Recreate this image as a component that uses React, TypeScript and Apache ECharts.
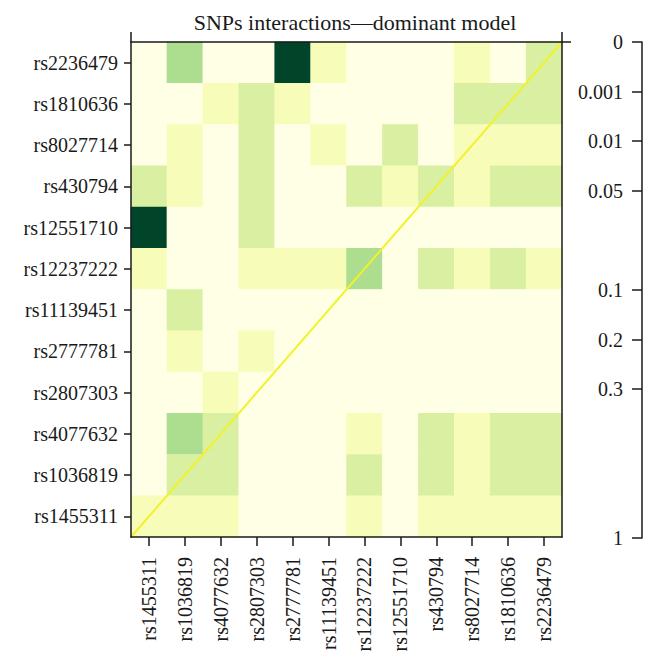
import React, { useEffect, useRef } from "react";
import * as echarts from "echarts";

// SNP names, left-to-right on the x axis and bottom-to-top on the y axis
const snps = [
  "rs1455311", "rs1036819", "rs4077632", "rs2807303", "rs2777781", "rs11139451",
  "rs12237222", "rs12551710", "rs430794", "rs8027714", "rs1810636", "rs2236479",
];

// estimated p-values by colour class
const D = 0.0005; // darkest green
const M = 0.25;   // medium green
const L = 0.5;    // light green
const P = 0.75;   // pale yellow
const W = 0.95;   // near white

// rows listed top-to-bottom (rs2236479 ... rs1455311), columns in snps order
const rowsTopToBottom = [
  "rs2236479", "rs1810636", "rs8027714", "rs430794", "rs12551710", "rs12237222",
  "rs11139451", "rs2777781", "rs2807303", "rs4077632", "rs1036819", "rs1455311",
];
const pMatrix: number[][] = [
  [W, M, W, W, D, P, W, W, W, P, W, L],
  [W, W, P, L, P, W, W, W, W, L, L, L],
  [W, P, W, L, W, P, W, L, W, P, P, P],
  [L, P, W, L, W, W, L, P, L, P, L, L],
  [D, W, W, L, W, W, W, W, W, W, W, W],
  [P, W, W, P, P, P, M, W, L, P, L, P],
  [W, L, W, W, W, W, W, W, W, W, W, W],
  [W, P, W, P, W, W, W, W, W, W, W, W],
  [W, W, P, W, W, W, W, W, W, W, W, W],
  [W, M, L, W, W, W, P, W, L, P, L, L],
  [W, L, L, W, W, W, L, W, L, P, L, L],
  [P, P, P, W, W, W, P, W, P, P, P, P],
];

// colour classes
const pieceBounds = [
  { lte: 0.001 },
  { gt: 0.001, lte: 0.3 },
  { gt: 0.3, lte: 0.6 },
  { gt: 0.6, lte: 0.85 },
  { gt: 0.85 },
];
const pieceColors = ["#004529", "#addd8e", "#d9f0a3", "#f7fcb9", "#ffffe5"];

// colour bar scale
const colorbarPositions = ["0", "1", "2", "3", "4", "5", "6", "7", "8", "9", "10"];
const colorbarTickLabels = ["0", "0.001", "0.01", "0.05", "", "0.1", "0.2", "0.3", "", "", "1"];
const colorbarStrip = [[0.3, 0], [0.3, 10]];

const diagonal = [[0, 0], [1, 1]];

const title = "SNPs interactions\u2014dominant model";

const FONT = "Liberation Serif";
const INK = "#1a1a1a";

export default function App() {
  const ref = useRef<HTMLDivElement>(null);
  useEffect(() => {
    if (!ref.current) return;
    const chart = echarts.init(ref.current, null, { renderer: "svg" });
    const n = snps.length;
    const heatData: any[] = [];
    rowsTopToBottom.forEach((rowName, r) => {
      const yi = snps.indexOf(rowName);
      pMatrix[r].forEach((v, c) => heatData.push([c, yi, v]));
    });
    const axisLine = { show: true, lineStyle: { color: INK, width: 1.5 } };
    const label = { fontFamily: FONT, fontSize: 20, color: INK };
    chart.setOption({
      animation: false,
      backgroundColor: "#ffffff",
      grid: [
        { left: 131, top: 42, width: 431, height: 495, show: false },
        { left: 642, top: 42, width: 4, height: 496, show: false },
      ],
      xAxis: [
        {
          type: "category", gridIndex: 0, data: snps, position: "bottom", z: 5,
          axisLine,
          axisTick: { show: true, alignWithLabel: true, length: 9, lineStyle: { color: INK, width: 1.5 } },
          axisLabel: { ...label, rotate: 90, margin: 20, interval: 0 },
          splitLine: { show: false },
        },
        {
          type: "value", gridIndex: 0, position: "top", min: 0, max: 1, interval: 1, z: 5,
          axisLine,
          axisTick: { show: true, length: 10, lineStyle: { color: INK, width: 1.5 } },
          axisLabel: { show: false },
          splitLine: { show: false },
        },
        { type: "value", gridIndex: 1, min: 0, max: 1, show: false },
      ],
      yAxis: [
        {
          type: "category", gridIndex: 0, data: snps, z: 5,
          axisLine,
          axisTick: { show: true, alignWithLabel: true, length: 7, lineStyle: { color: INK, width: 1.5 } },
          axisLabel: { ...label, margin: 13, interval: 0 },
          splitLine: { show: false },
        },
        {
          type: "value", gridIndex: 0, position: "right", min: 0, max: 1, interval: 1, z: 5,
          axisLine,
          axisTick: { show: false },
          axisLabel: { show: false },
          splitLine: { show: false },
        },
        {
          type: "category", gridIndex: 1, data: colorbarPositions, inverse: true, boundaryGap: false,
          position: "left", z: 5,
          axisLine,
          axisTick: {
            show: true, length: 10, lineStyle: { color: INK, width: 1.5 },
            interval: (i: number) => colorbarTickLabels[i] !== "",
          },
          axisLabel: {
            ...label, margin: 19, interval: 0,
            formatter: (_v: string, i: number) => colorbarTickLabels[i],
          },
          splitLine: { show: false },
        },
      ],
      visualMap: {
        type: "piecewise", show: false, seriesIndex: 0, dimension: 2,
        pieces: pieceBounds.map((b, i) => ({ ...b, color: pieceColors[i] })),
      },
      series: [
        {
          type: "heatmap", xAxisIndex: 0, yAxisIndex: 0, data: heatData,
          itemStyle: { borderWidth: 0 },
          emphasis: { disabled: true },
        },
        {
          type: "line", xAxisIndex: 1, yAxisIndex: 1, data: diagonal, symbol: "none", z: 3,
          lineStyle: { color: "#f2f22a", width: 2 },
        },
        {
          type: "line", xAxisIndex: 2, yAxisIndex: 2, data: colorbarStrip, symbol: "none", z: 3,
          lineStyle: {
            width: 2,
            color: new echarts.graphic.LinearGradient(0, 0, 0, 1, [
              { offset: 0, color: "#004529" },
              { offset: 0.1, color: "#41ab5d" },
              { offset: 0.25, color: "#d9f0a3" },
              { offset: 0.4, color: "#ffffff" },
              { offset: 1, color: "#ffffff" },
            ]),
          },
        },
      ],
      graphic: [
        {
          type: "text", x: 355, y: 22,
          style: { text: title, fontFamily: FONT, fontSize: 22, fill: INK, align: "center", verticalAlign: "middle" },
        },
        {
          type: "line", shape: { x1: 562, y1: 42, x2: 571, y2: 42 },
          style: { stroke: INK, lineWidth: 1.5 }, z: 10,
        },
      ],
    });
    return () => chart.dispose();
  }, []);
  return (
    <div
      ref={ref}
      style={{ position: "absolute", left: 0, top: 0, width: 658, height: 667 }}
    />
  );
}
